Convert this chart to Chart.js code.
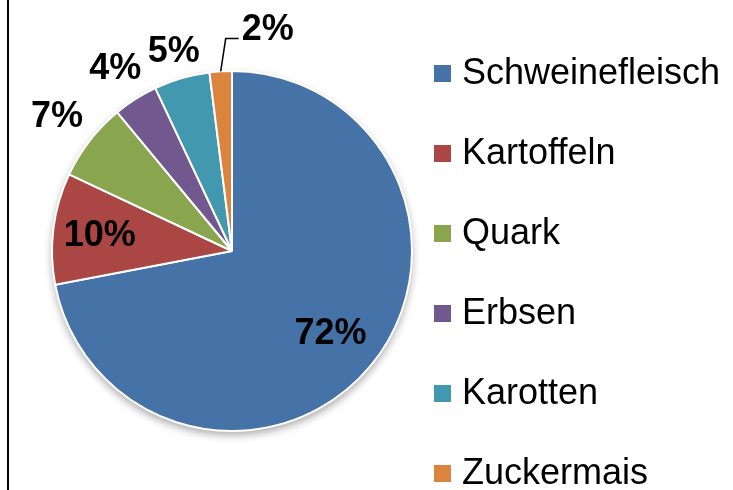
<!DOCTYPE html>
<html>
<head>
<meta charset="utf-8">
<script src="https://cdn.jsdelivr.net/npm/chart.js@4/dist/chart.umd.min.js"></script>
<style>
  html, body { margin: 0; padding: 0; background: #fff; }
  #wrap { position: relative; width: 733px; height: 490px; }
  #frame { position: absolute; left: 7px; top: 0; width: 2px; height: 490px; background: #000; }
</style>
</head>
<body>
<div id="wrap">
  <canvas id="pieChart" width="733" height="490"></canvas>
  <div id="frame"></div>
</div>
<script>
const categories = ["Schweinefleisch", "Kartoffeln", "Quark", "Erbsen", "Karotten", "Zuckermais"];
const shares = [72, 10, 7, 4, 5, 2];
const colors = ["#4572A7", "#AA4643", "#89A54E", "#71588F", "#4198AF", "#DB843D"];

// label placement: radius factor per slice (inside < 1, outside > 1)
const labelRadius = [0.71, 0.74, 1.23, 1.21, 1.16, 1.24];

const pieShadow = {
  id: "pieShadow",
  beforeDatasetsDraw(chart) {
    let arc = chart.getDatasetMeta(0).data[0];
    if (!arc) return;
    let ctx = chart.ctx;
    ctx.save();
    ctx.shadowColor = "rgba(0,0,0,0.35)";
    ctx.shadowBlur = 8;
    ctx.shadowOffsetY = 4;
    ctx.fillStyle = "#fff";
    ctx.beginPath();
    ctx.arc(arc.x, arc.y, arc.outerRadius, 0, Math.PI * 2);
    ctx.fill();
    ctx.restore();
  }
};

const pctLabels = {
  id: "pctLabels",
  afterDatasetsDraw(chart) {
    let ctx = chart.ctx;
    let arcs = chart.getDatasetMeta(0).data;
    ctx.save();
    ctx.font = "bold 36px 'Liberation Sans', Arial, sans-serif";
    ctx.fillStyle = "#000";
    ctx.textAlign = "center";
    ctx.textBaseline = "middle";
    arcs.forEach((arc, i) => {
      let mid = (arc.startAngle + arc.endAngle) / 2;
      let r = arc.outerRadius;
      let txt = shares[i] + "%";
      if (i === arcs.length - 1) {
        // small slice: label pulled right with a leader line
        let ex = arc.x + Math.cos(mid) * r;
        let ey = arc.y + Math.sin(mid) * r;
        let ky = arc.y - r * 1.18;
        ctx.strokeStyle = "#000";
        ctx.lineWidth = 1.5;
        ctx.beginPath();
        ctx.moveTo(ex, ey);
        ctx.lineTo(ex + 5, ky);
        ctx.lineTo(ex + 18, ky);
        ctx.stroke();
        ctx.textAlign = "left";
        ctx.fillText(txt, ex + 21, ky - 9);
        ctx.textAlign = "center";
        return;
      }
      let f = labelRadius[i];
      ctx.fillText(txt, arc.x + Math.cos(mid) * r * f, arc.y + Math.sin(mid) * r * f + 2);
    });
    ctx.restore();
  }
};

const sideLegend = {
  id: "sideLegend",
  afterDraw(chart) {
    let ctx = chart.ctx;
    let x = 434, y = 73, step = 80;
    ctx.save();
    ctx.font = "36px 'Liberation Sans', Arial, sans-serif";
    ctx.textBaseline = "middle";
    ctx.textAlign = "left";
    categories.forEach((c, i) => {
      let yy = y + i * step;
      ctx.fillStyle = colors[i];
      ctx.fillRect(x, yy - 8, 17, 17);
      ctx.fillStyle = "#000";
      ctx.fillText(c, x + 28, yy + 1);
    });
    ctx.restore();
  }
};

new Chart(document.getElementById("pieChart"), {
  type: "pie",
  data: {
    labels: categories,
    datasets: [{
      data: shares,
      backgroundColor: colors,
      borderColor: "#fff",
      borderWidth: 2
    }]
  },
  options: {
    responsive: false,
    animation: false,
    layout: { padding: { left: 51, top: 70, right: 320, bottom: 58 } },
    plugins: {
      legend: { display: false },
      tooltip: { enabled: false }
    }
  },
  plugins: [pieShadow, pctLabels, sideLegend]
});
</script>
</body>
</html>
